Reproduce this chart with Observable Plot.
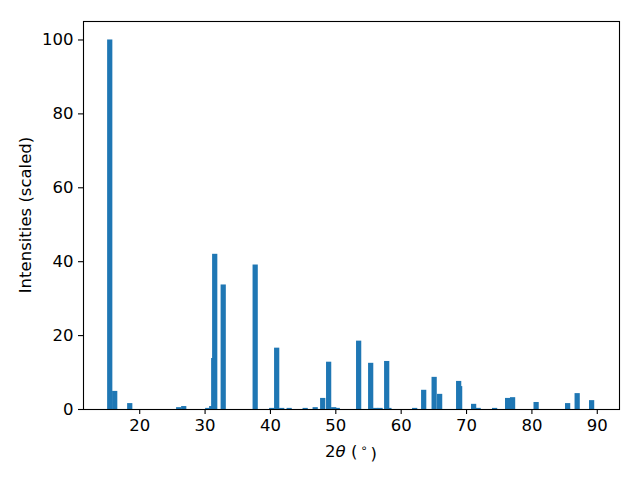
<!DOCTYPE html>
<html>
<head>
<meta charset="utf-8">
<script src="https://cdn.jsdelivr.net/npm/d3@7"></script>
<script src="https://cdn.jsdelivr.net/npm/@observablehq/plot@0.6"></script>
<style>
  html, body { margin: 0; padding: 0; background: #fff; }
</style>
</head>
<body>
<div id="chart"></div>
<script>
const twoTheta = [15.49, 16.25, 18.55, 26.04, 26.81, 30.48, 31.09, 31.40, 31.55, 32.85,
  37.74, 40.27, 41.03, 41.80, 42.94, 45.39, 46.92, 48.07, 48.98, 49.75,
  50.30, 53.57, 55.41, 56.17, 56.85, 58.20, 57.86, 62.14, 63.52, 65.12,
  65.96, 69.02, 68.87, 71.16, 71.85, 74.37, 76.36, 77.12, 80.72, 85.54,
  87.00, 89.21];
const intensity = [100, 4.9, 1.6, 0.5, 0.8, 0.3, 0.8, 13.8, 42.0, 33.7,
  39.1, 0.3, 16.6, 0.3, 0.3, 0.3, 0.5, 3.0, 12.8, 0.5,
  0.3, 18.5, 12.5, 0.3, 0.3, 0.3, 13.0, 0.3, 5.2, 8.7,
  4.1, 6.2, 7.6, 1.4, 0.3, 0.3, 3.0, 3.2, 1.9, 1.6,
  4.3, 2.4];
const xTicks = [20, 30, 40, 50, 60, 70, 80, 90];
const yTicks = [0, 20, 40, 60, 80, 100];
const barWidth = 0.8;

const data = twoTheta.map((t, i) => ({t, v: intensity[i]}));

const font = "DejaVu Sans, sans-serif";
const plot = Plot.plot({
  width: 640,
  height: 480,
  marginLeft: 83,
  marginRight: 21,
  marginTop: 21,
  marginBottom: 71,
  style: {fontFamily: font, fontSize: "16.5px", color: "#000", background: "#fff"},
  x: {domain: [11.4, 93.4], label: null},
  y: {domain: [0, 105], label: null},
  marks: [
    Plot.rectY(data, {x1: d => d.t - barWidth / 2, x2: d => d.t + barWidth / 2, y1: 0, y2: "v", fill: "#1f77b4", inset: 0}),
    Plot.axisX({ticks: xTicks, tickSize: 5, tickPadding: 5, tickFormat: d => String(d), fontSize: 16.5, stroke: "#000", strokeWidth: 1.1}),
    Plot.axisY({ticks: yTicks, tickSize: 5, tickPadding: 5, tickFormat: d => String(d), fontSize: 16.5, stroke: "#000", strokeWidth: 1.1}),
    Plot.frame({stroke: "#000", strokeWidth: 1.1})
  ]
});
document.getElementById("chart").appendChild(plot);

const svg = d3.select(plot);
const xl = svg.append("text")
  .attr("x", 351).attr("y", 457)
  .attr("text-anchor", "middle")
  .attr("font-family", font).attr("font-size", "16.5px").attr("fill", "#000");
xl.append("tspan").text("2");
xl.append("tspan").attr("font-style", "italic").text("θ");
xl.append("tspan").text(" (");
xl.append("tspan").attr("dx", "3").attr("dy", "-0.45em").attr("font-size", "11.5px").text("∘");
xl.append("tspan").attr("dx", "3").attr("dy", "0.45em").text(")");

svg.append("text")
  .attr("transform", "translate(31,215) rotate(-90)")
  .attr("text-anchor", "middle")
  .attr("font-family", font).attr("font-size", "16.5px").attr("fill", "#000")
  .text("Intensities (scaled)");
</script>
</body>
</html>
